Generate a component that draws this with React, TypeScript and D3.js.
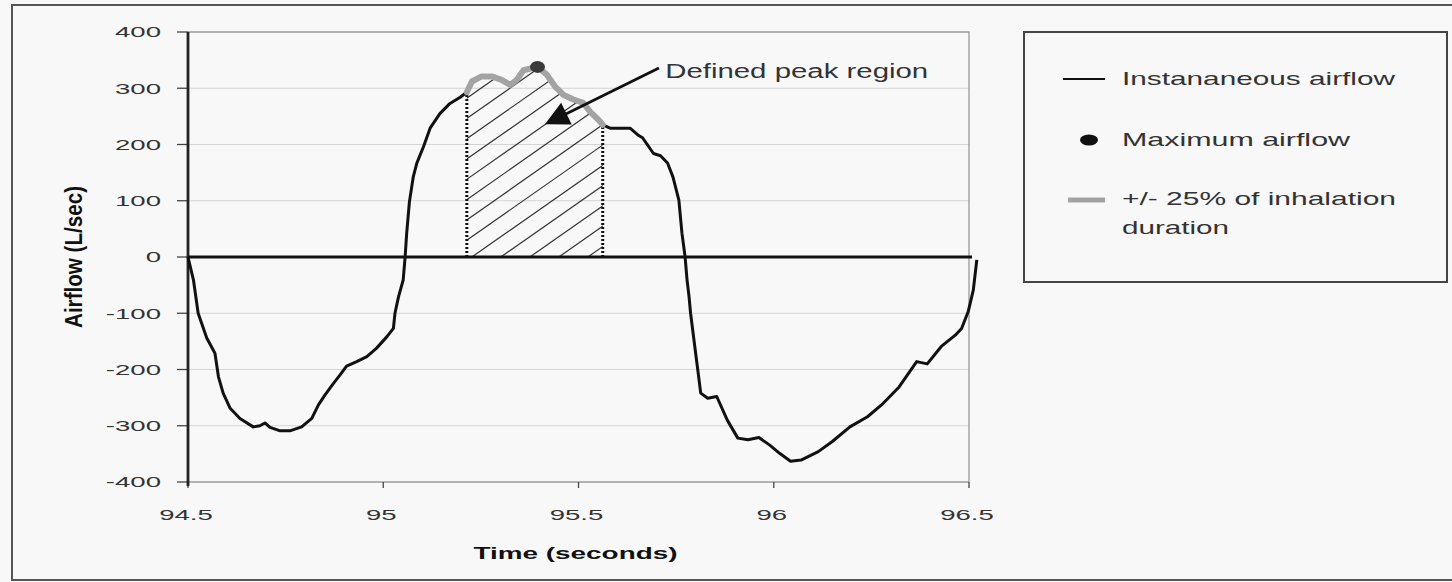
import React, { useRef, useEffect } from 'react'
import * as d3 from 'd3'

// airflow trace
const timeSec = [
  94.5, 94.514, 94.526, 94.548, 94.569, 94.578, 94.59, 94.608, 94.633, 94.667,
  94.684, 94.697, 94.71, 94.736, 94.761, 94.791, 94.817, 94.834, 94.851, 94.872,
  94.889, 94.906, 94.932, 94.958, 94.983, 95.009, 95.026, 95.03, 95.039, 95.051,
  95.056, 95.06, 95.067, 95.077, 95.086, 95.103, 95.12, 95.145, 95.171, 95.197,
  95.214, 95.227, 95.252, 95.278, 95.303, 95.325, 95.342, 95.359, 95.395, 95.419,
  95.44, 95.462, 95.487, 95.512, 95.53, 95.551, 95.562, 95.581, 95.632, 95.652,
  95.664, 95.692, 95.71, 95.728, 95.742, 95.757, 95.765, 95.773, 95.778, 95.783,
  95.787, 95.8, 95.813, 95.831, 95.854, 95.881, 95.908, 95.934, 95.962, 95.989,
  96.015, 96.043, 96.07, 96.114, 96.15, 96.195, 96.24, 96.276, 96.321, 96.366,
  96.393, 96.429, 96.465, 96.481, 96.498, 96.511, 96.52,
]
const airflow = [
  0, -41, -100, -144, -171, -213, -242, -269, -287, -302,
  -300, -295, -303, -309, -309, -302, -287, -263, -245, -225,
  -210, -194, -186, -177, -162, -142, -127, -100, -71, -41,
  0, 42, 98, 143, 167, 196, 229, 255, 273, 284,
  293, 312, 321, 321, 315, 306, 315, 332, 338, 324,
  303, 288, 280, 274, 258, 244, 235, 229, 229, 217,
  212, 184, 180, 167, 142, 101, 42, 0, -41, -70,
  -100, -171, -242, -251, -248, -290, -322, -325, -321, -334,
  -349, -363, -361, -346, -328, -302, -284, -263, -231, -186,
  -190, -159, -139, -127, -97, -59, -5,
]

// +/- 25% of inhalation duration window
const peakStart = 95.214
const peakEnd = 95.562

const yTicks = [-400, -300, -200, -100, 0, 100, 200, 300, 400]
const xTicks = [94.5, 95, 95.5, 96, 96.5]
const xTickLabels = ['94.5', '95', '95.5', '96', '96.5']

const xTitle = 'Time (seconds)'
const yTitle = 'Airflow (L/sec)'
const annotationText = 'Defined peak region'
const legendLabels = ['Instananeous airflow', 'Maximum airflow', '+/- 25% of inhalation', 'duration']

export default function App() {
  const ref = useRef<SVGSVGElement>(null)

  useEffect(() => {
    const svg = d3.select(ref.current)
    svg.selectAll('*').remove()

    const W = 1452
    const H = 582
    const plot = { left: 188, right: 969, top: 32, bottom: 482 }
    const font = '"Liberation Sans", Arial, sans-serif'
    const sx = 1.84 // the picture is stretched sideways

    const x = d3.scaleLinear().domain([94.5, 96.5]).range([plot.left, plot.right])
    const y = d3.scaleLinear().domain([-400, 400]).range([plot.bottom, plot.top])

    const points = timeSec.map((t, i) => ({ t, v: airflow[i] }))
    const peakPts = points.filter((d) => d.t >= peakStart && d.t <= peakEnd)
    const maxPt = d3.greatest(points, (d) => d.v)!

    svg.append('rect').attr('width', W).attr('height', H).attr('fill', '#f8f8f8')
    svg
      .append('rect')
      .attr('x', 12)
      .attr('y', 5)
      .attr('width', 1460)
      .attr('height', 575)
      .attr('fill', 'none')
      .attr('stroke', '#555')
      .attr('stroke-width', 2)

    const g = svg.append('g')

    // gridlines
    g.selectAll('line.grid')
      .data(yTicks.filter((d) => d !== 0 && d !== -400 && d !== 400))
      .join('line')
      .attr('x1', plot.left)
      .attr('x2', plot.right)
      .attr('y1', (d) => y(d))
      .attr('y2', (d) => y(d))
      .attr('stroke', '#d4d4d4')
      .attr('stroke-width', 1.2)

    // plot frame top / right / bottom
    g.append('path')
      .attr('d', `M${plot.left},${y(400)}H${plot.right}V${y(-400)}H${plot.left}`)
      .attr('fill', 'none')
      .attr('stroke', '#999')
      .attr('stroke-width', 1.3)

    // y ticks + labels
    g.selectAll('line.yt')
      .data(yTicks)
      .join('line')
      .attr('x1', plot.left - 11)
      .attr('x2', plot.left)
      .attr('y1', (d) => y(d))
      .attr('y2', (d) => y(d))
      .attr('stroke', '#444')
      .attr('stroke-width', 1.3)
    g.selectAll('text.yl')
      .data(yTicks)
      .join('text')
      .attr('transform', (d) => `translate(${plot.left - 27},${y(d)}) scale(${sx},1)`)
      .attr('dy', '0.36em')
      .attr('text-anchor', 'end')
      .attr('font-family', font)
      .attr('font-size', 15)
      .attr('fill', '#333')
      .text((d) => d)

    // x ticks + labels
    g.selectAll('line.xt')
      .data(xTicks)
      .join('line')
      .attr('x1', (d) => x(d))
      .attr('x2', (d) => x(d))
      .attr('y1', plot.bottom)
      .attr('y2', plot.bottom + 6)
      .attr('stroke', '#444')
      .attr('stroke-width', 1.3)
    g.selectAll('text.xl')
      .data(xTicks)
      .join('text')
      .attr('transform', (d) => `translate(${x(d) - 2},${plot.bottom + 33}) scale(${sx},1)`)
      .attr('dy', '0.36em')
      .attr('text-anchor', 'middle')
      .attr('font-family', font)
      .attr('font-size', 15)
      .attr('fill', '#333')
      .text((d, i) => xTickLabels[i])

    // hatched peak region
    const area = d3
      .area<{ t: number; v: number }>()
      .x((d) => x(d.t))
      .y0(y(0))
      .y1((d) => y(d.v))
    svg
      .append('defs')
      .append('clipPath')
      .attr('id', 'peakClip')
      .append('path')
      .attr('d', area(peakPts))
    const x0 = x(peakStart)
    const hatchStep = 29
    const slope = 0.7
    const hatch = g.append('g').attr('clip-path', 'url(#peakClip)')
    d3.range(-14, 8).forEach((k) => {
      const xi = x0 + 5 + k * hatchStep
      hatch
        .append('line')
        .attr('x1', xi)
        .attr('y1', y(0))
        .attr('x2', xi + 500)
        .attr('y2', y(0) - slope * 500)
        .attr('stroke', '#333')
        .attr('stroke-width', 1.2)
    })

    // dotted bounds
    const first = peakPts[0]
    const last = peakPts[peakPts.length - 1]
    ;[first, last].forEach((d) => {
      g.append('line')
        .attr('x1', x(d.t))
        .attr('x2', x(d.t))
        .attr('y1', y(0))
        .attr('y2', y(d.v))
        .attr('stroke', '#111')
        .attr('stroke-width', 3)
        .attr('stroke-dasharray', '2,2')
    })

    // y axis + zero line
    g.append('line')
      .attr('x1', plot.left)
      .attr('x2', plot.left)
      .attr('y1', plot.top)
      .attr('y2', plot.bottom + 4)
      .attr('stroke', '#222')
      .attr('stroke-width', 2.8)
    g.append('line')
      .attr('x1', plot.left)
      .attr('x2', plot.right + 3)
      .attr('y1', y(0))
      .attr('y2', y(0))
      .attr('stroke', '#111')
      .attr('stroke-width', 3.2)

    const line = d3
      .line<{ t: number; v: number }>()
      .x((d) => x(d.t))
      .y((d) => y(d.v))

    g.append('path')
      .datum(points)
      .attr('d', line)
      .attr('fill', 'none')
      .attr('stroke', '#111')
      .attr('stroke-width', 3)
      .attr('stroke-linejoin', 'round')

    g.append('path')
      .datum(peakPts)
      .attr('d', line)
      .attr('fill', 'none')
      .attr('stroke', '#a3a3a3')
      .attr('stroke-width', 6)
      .attr('stroke-linejoin', 'round')
      .attr('stroke-linecap', 'round')

    g.append('ellipse')
      .attr('cx', x(maxPt.t))
      .attr('cy', y(maxPt.v))
      .attr('rx', 7.5)
      .attr('ry', 6)
      .attr('fill', '#3a3a3a')

    // annotation arrow
    const tail = [x(95.706), y(336)]
    const tip = [x(95.414), y(236)]
    const dx = tip[0] - tail[0]
    const dy = tip[1] - tail[1]
    const len = Math.hypot(dx, dy)
    const ux = dx / len
    const uy = dy / len
    const headLen = 24
    const half = 12
    const base = [tip[0] - ux * headLen, tip[1] - uy * headLen]
    g.append('line')
      .attr('x1', tail[0])
      .attr('y1', tail[1])
      .attr('x2', base[0] + ux * 4)
      .attr('y2', base[1] + uy * 4)
      .attr('stroke', '#111')
      .attr('stroke-width', 2.8)
    g.append('path')
      .attr(
        'd',
        `M${tip[0]},${tip[1]}L${base[0] - uy * half},${base[1] + ux * half}L${base[0] + uy * half},${base[1] - ux * half}Z`
      )
      .attr('fill', '#111')
    g.append('text')
      .attr('x', x(95.722))
      .attr('y', y(318))
      .attr('font-family', font)
      .attr('font-size', 20)
      .attr('fill', '#333')
      .attr('textLength', 263)
      .attr('lengthAdjust', 'spacingAndGlyphs')
      .text(annotationText)

    // axis titles
    g.append('text')
      .attr('x', (plot.left + plot.right) / 2 - 3)
      .attr('y', 559)
      .attr('text-anchor', 'middle')
      .attr('font-family', font)
      .attr('font-weight', 'bold')
      .attr('font-size', 17)
      .attr('fill', '#111')
      .attr('textLength', 204)
      .attr('lengthAdjust', 'spacingAndGlyphs')
      .text(xTitle)
    g.append('text')
      .attr('transform', `translate(82,${y(0)}) scale(1.5,1) rotate(-90)`)
      .attr('text-anchor', 'middle')
      .attr('font-family', font)
      .attr('font-weight', 'bold')
      .attr('font-size', 16)
      .attr('fill', '#111')
      .attr('textLength', 142)
      .attr('lengthAdjust', 'spacingAndGlyphs')
      .text(yTitle)

    // legend
    const lg = svg.append('g')
    lg.append('rect')
      .attr('x', 1024)
      .attr('y', 32)
      .attr('width', 423)
      .attr('height', 250)
      .attr('fill', '#f8f8f8')
      .attr('stroke', '#444')
      .attr('stroke-width', 2)
    lg.append('line')
      .attr('x1', 1063)
      .attr('x2', 1105)
      .attr('y1', 79)
      .attr('y2', 79)
      .attr('stroke', '#111')
      .attr('stroke-width', 2)
    lg.append('ellipse')
      .attr('cx', 1089)
      .attr('cy', 140)
      .attr('rx', 9)
      .attr('ry', 5.5)
      .attr('fill', '#111')
    lg.append('line')
      .attr('x1', 1068)
      .attr('x2', 1105)
      .attr('y1', 200)
      .attr('y2', 200)
      .attr('stroke', '#a3a3a3')
      .attr('stroke-width', 5)
    const legendPos = [
      { y: 78, w: 273 },
      { y: 139, w: 228 },
      { y: 198, w: 274 },
      { y: 227, w: 107 },
    ]
    legendLabels.forEach((label, i) => {
      lg.append('text')
        .attr('x', 1122)
        .attr('y', legendPos[i].y)
        .attr('dy', '0.36em')
        .attr('font-family', font)
        .attr('font-size', 19)
        .attr('fill', '#333')
        .attr('textLength', legendPos[i].w)
        .attr('lengthAdjust', 'spacingAndGlyphs')
        .text(label)
    })
  }, [])

  return (
    <svg
      ref={ref}
      width={1452}
      height={582}
      style={{ position: 'absolute', left: 0, top: 0, display: 'block' }}
    ></svg>
  )
}
